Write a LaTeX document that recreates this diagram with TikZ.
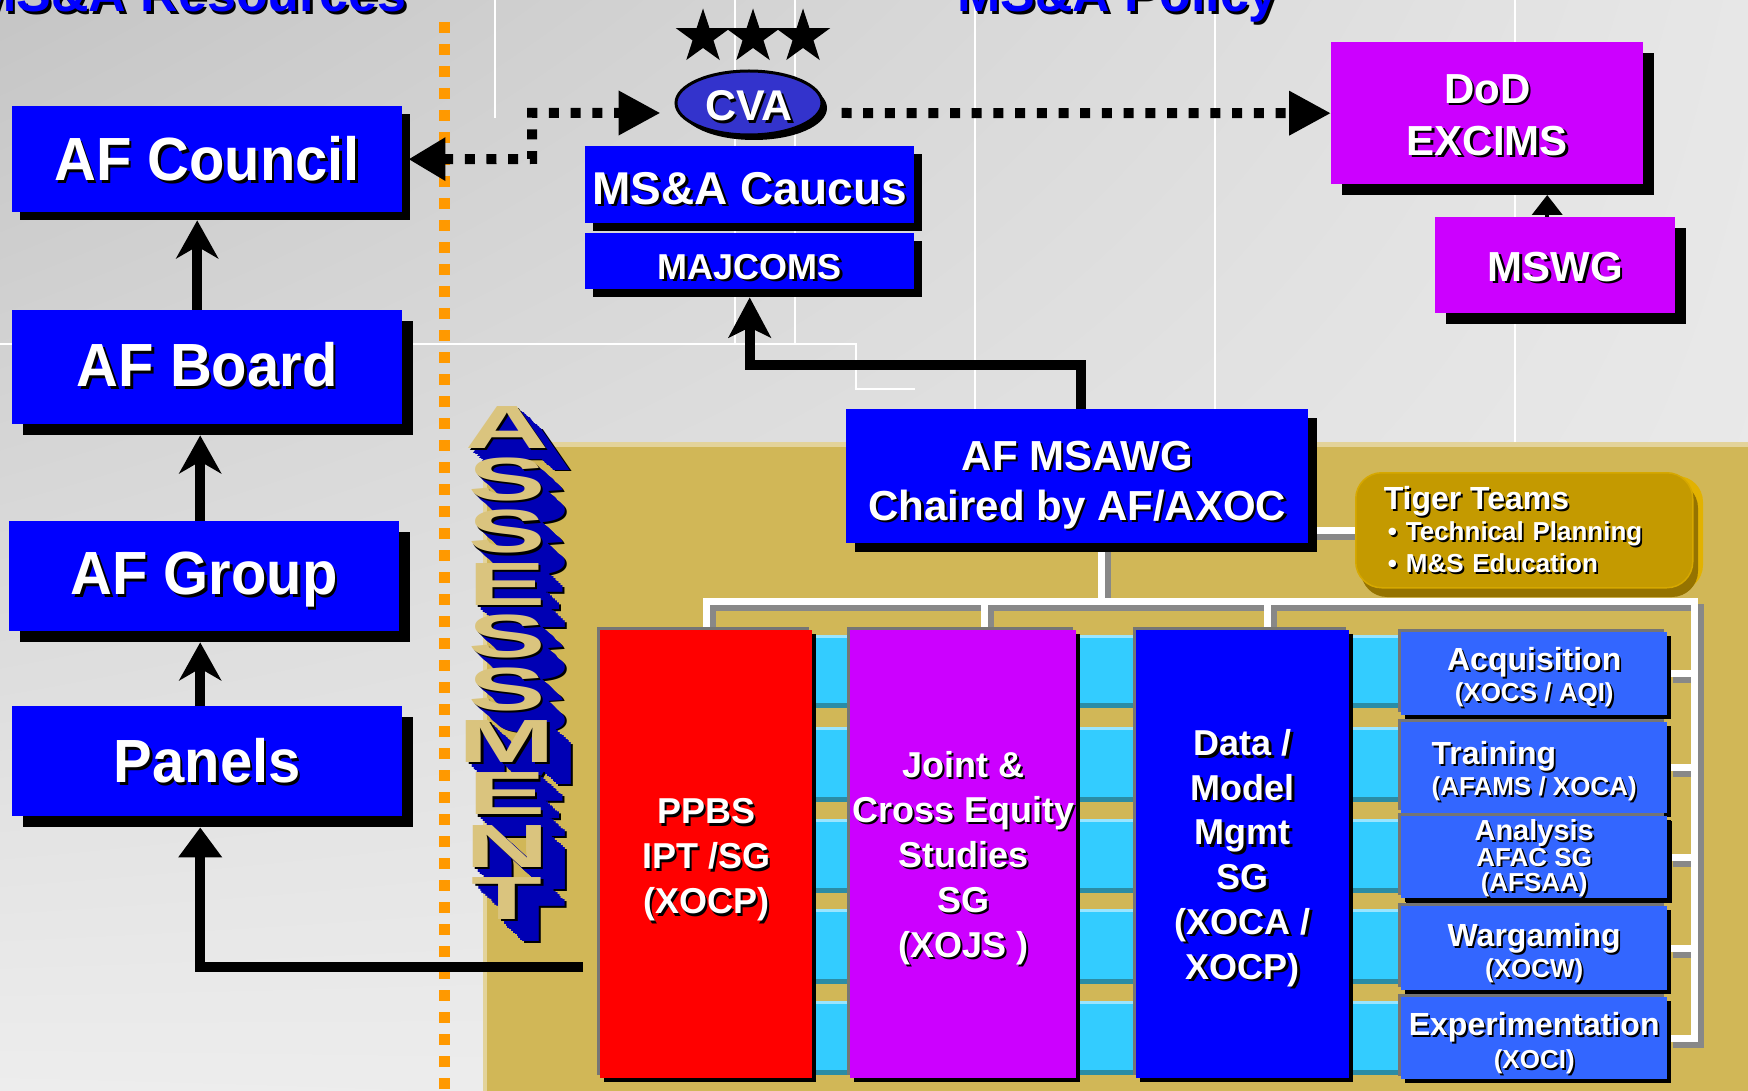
\documentclass[tikz,border=0pt]{standalone}
\usepackage{fontspec}
\setmainfont{Liberation Sans}
\newfontfamily\narrowf[FakeStretch=0.95]{Liberation Sans}
\usepackage{graphicx}
\usetikzlibrary{arrows.meta,shadows,shapes.geometric,shadings}
\lineskiplimit=-100pt
\lineskip=0pt
\definecolor{pblue}{HTML}{0000FF}
\definecolor{pmag}{HTML}{CC00FF}
\definecolor{pred}{HTML}{FF0000}
\definecolor{rblue}{HTML}{3366FF}
\definecolor{cvab}{HTML}{3333CC}
\definecolor{tanbg}{HTML}{D1B757}
\definecolor{tanhi}{HTML}{E3D39A}
\definecolor{gold}{HTML}{C49A00}
\definecolor{goldhi}{HTML}{E2B200}
\definecolor{goldlo}{HTML}{957300}
\definecolor{cyanb}{HTML}{33CCFF}
\definecolor{cyanhi}{HTML}{99E5FF}
\definecolor{cyanlo}{HTML}{2B8CA5}
\definecolor{orng}{HTML}{FF9900}
\definecolor{bevel}{HTML}{757575}
\definecolor{lgold}{HTML}{DAC47E}
\definecolor{xblue}{HTML}{0000B4}
\definecolor{treegray}{HTML}{888888}
\definecolor{bgtl}{HTML}{C5C5C5}
\definecolor{bgtr}{HTML}{E7E7E7}
\definecolor{bgbl}{HTML}{EDEDED}
\definecolor{bgbr}{HTML}{EBEBEB}
\pgfdeclarelayer{back}
\pgfdeclarelayer{bg}
\pgfsetlayers{back,bg,main}
\newcommand{\dn}{0pt}
\newcommand{\shd}[1]{\raisebox{-\dn}[\height][\depth]{\makebox[0pt][l]{\kern2.5pt\raisebox{-2.5pt}{\textcolor{black}{#1}}}#1}}
\newcommand{\shs}[1]{\raisebox{-\dn}[\height][\depth]{\makebox[0pt][l]{\kern1.8pt\raisebox{-1.8pt}{\textcolor{black}{#1}}}#1}}
\newcommand{\ltrfont}{\bfseries\fontsize{61}{61}\selectfont}
\begin{document}
\begin{tikzpicture}[x=1pt,y=-1pt,
  box/.style={rectangle, inner sep=0pt, anchor=north west, text=white, align=center},
  sh/.style={drop shadow={shadow xshift=#1, shadow yshift=-#1, fill=black, opacity=1}},
  bev/.style={general shadow={shadow xshift=-3pt, shadow yshift=3pt, fill=bevel}, general shadow={shadow xshift=3.5pt, shadow yshift=-3.5pt, fill=black}},
  big/.style={font=\narrowf\bfseries\fontsize{61}{64}\selectfont\def\dn{#1}},
  mid/.style={font=\bfseries\fontsize{42}{52}\selectfont\def\dn{#1}},
  col/.style={font=\bfseries\fontsize{36}{45}\selectfont\def\dn{#1}},
  rb/.style={box, bev, fill=rblue, minimum width=266pt},
  rbf/.style={font=\bfseries\fontsize{32}{31}\selectfont\def\dn{#1}},
  bigarr/.style={line width=10pt, -{Stealth[length=38pt,width=42pt,inset=12pt]}},
  triarr/.style={line width=10pt, -{Triangle[length=30pt,width=42pt]}},
  dotl/.style={line width=10pt, dash pattern=on 10pt off 11.7pt},
  tree/.style={line width=7pt},
  lt/.style={font=\ltrfont, anchor=base, inner sep=0pt},
]
\useasboundingbox (0,0) rectangle (1748,1091);

% ---------- background ----------
\begin{pgfonlayer}{back}
\shade[upper left=bgtl, upper right=bgtr, lower left=bgbl, lower right=bgbr] (0,0) rectangle (1748,1091);
\draw[white, line width=1.2pt] (495,0)--(495,118) (735,0)--(735,344) (795,0)--(795,344)
  (0,344)--(856,344)--(856,389)--(915,389) (975,0)--(975,409) (1215,0)--(1215,443) (1515,0)--(1515,443);
\fill[tanbg] (483,443) rectangle (1748,1091);
\fill[tanhi] (483,442) rectangle (1748,447);
\fill[tanhi] (483,443) rectangle (487,1091);
\draw[orng, line width=11pt, dash pattern=on 11pt off 11pt] (444,22) -- (444,1091);
\end{pgfonlayer}

\begin{pgfonlayer}{bg}
\foreach \xa/\xb in {812/850, 1076/1136, 1349/1401}
  \foreach \ya/\yb in {635/708, 727/802, 819/893, 909/984, 1001/1075} {
    \fill[cyanb] (\xa,\ya) rectangle (\xb,\yb);
    \fill[cyanhi] (\xa,\ya) rectangle (\xb,\ya+3);
    \fill[cyanlo] (\xa,\yb-5) rectangle (\xb,\yb);
  }
\end{pgfonlayer}

% ---------- titles ----------
\node[anchor=base east, inner sep=0pt, text=pblue, font=\bfseries\fontsize{52}{52}\selectfont] (tres) at (407,12) {\shd{MS\&A Resources}};
\node[anchor=base west, inner sep=0pt, text=pblue, font=\bfseries\fontsize{52}{52}\selectfont] (tpol) at (957,12) {\shd{MS\&A Policy}};

% ---------- left chain ----------
\node[box, sh=8pt, fill=pblue, minimum width=390pt, minimum height=106pt, big=1pt] (council) at (12,106) {\shd{AF Council}};
\node[box, sh=11pt, fill=pblue, minimum width=390pt, minimum height=114pt, big=-1pt] (board) at (12,310) {\shd{AF Board}};
\node[box, sh=11pt, fill=pblue, minimum width=390pt, minimum height=110pt, big=5pt] (group) at (9,521) {\shd{AF Group}};
\node[box, sh=11pt, fill=pblue, minimum width=390pt, minimum height=110pt, big=1pt] (panels) at (12,706) {\shd{Panels}};

% ---------- top centre ----------
\foreach \sx [count=\k] in {703,753,803}
  \node[star, star points=5, star point ratio=2.6, fill=black, minimum size=57pt, inner sep=0pt] (star\k) at (\sx,37) {};
\node[ellipse, fill=cvab, draw=black, line width=3pt, minimum width=146pt, minimum height=64pt, inner sep=0pt, text=white, sh=5pt, font=\bfseries\fontsize{43}{43}\selectfont\def\dn{4pt}] (cva) at (749,103) {\shd{CVA}};
\node[box, sh=8pt, fill=pblue, minimum width=329pt, minimum height=77pt, font=\bfseries\fontsize{46}{46}\selectfont\def\dn{5pt}] (caucus) at (585,146) {\shd{MS\&A Caucus}};
\node[box, sh=8pt, fill=pblue, minimum width=329pt, minimum height=56pt, font=\bfseries\fontsize{36}{36}\selectfont\def\dn{7pt}] (majcoms) at (585,233) {\shd{MAJCOMS}};

% ---------- top right ----------
\node[box, sh=11pt, fill=pmag, minimum width=312pt, minimum height=142pt, mid=3pt] (dod) at (1331,42) {\shd{DoD}\\\shd{EXCIMS}};
\node[box, sh=11pt, fill=pmag, minimum width=240pt, minimum height=96pt, mid=3pt] (mswg) at (1435,217) {\shd{MSWG}};

% ---------- MSAWG ----------
\node[box, sh=9pt, fill=pblue, minimum width=462pt, minimum height=134pt, font=\bfseries\fontsize{42}{50}\selectfont\def\dn{10pt}] (msawg) at (846,409) {\shd{AF MSAWG}\\\shd{Chaired by AF/AXOC}};

% ---------- Tiger teams ----------
\fill[goldhi, rounded corners=26pt] (1366,476) rectangle (1703,591);
\fill[goldlo, rounded corners=26pt] (1361,482) rectangle (1698,597);
\node[rectangle, rounded corners=26pt, fill=gold, draw=goldhi!60!gold, line width=1.5pt, minimum width=337pt, minimum height=115pt, anchor=north west, inner xsep=28pt, inner ysep=0pt, text width=281pt, align=left, text=white, font=\bfseries\fontsize{26}{31.5}\selectfont] (tiger) at (1355,472)
  {{\fontsize{32}{31.5}\selectfont\shs{Tiger Teams}}\\\shs{\hspace*{4pt}\textbullet\hspace{9pt}Technical Planning}\\\shs{\hspace*{4pt}\textbullet\hspace{9pt}M\&S Education}};

% ---------- columns ----------
\node[box, bev, fill=pred, minimum width=212pt, minimum height=448pt, col=7pt] (ppbs) at (600,630) {\shd{PPBS}\\\shd{IPT /SG}\\\shd{(XOCP)}};
\node[box, bev, fill=pmag, minimum width=226pt, minimum height=448pt, col=5pt] (joint) at (850,630) {\shd{Joint \&}\\\shd{Cross Equity}\\\shd{Studies}\\\shd{SG}\\\shd{(XOJS )}};
\node[box, bev, fill=pblue, minimum width=213pt, minimum height=448pt, font=\bfseries\fontsize{36}{44.7}\selectfont\def\dn{5pt}] (data) at (1136,630) {\shd{Data /}\\\shd{Model}\\\shd{Mgmt}\\\shd{SG}\\\shd{(XOCA /}\\\shd{XOCP)}};

% ---------- right boxes ----------
\node[rb, rbf=4pt, minimum height=83pt] (acq) at (1401,632) {\shs{Acquisition}\\{\fontsize{26}{31}\selectfont\shs{(XOCS / AQI)}}};
\node[rb, rbf=4pt, minimum height=91pt, align=left] (train) at (1401,722) {\shs{Training}\\{\fontsize{26}{31}\selectfont\shs{(AFAMS / XOCA)}}};
\node[rb, minimum height=82pt, font=\bfseries\fontsize{29}{25.5}\selectfont\def\dn{2pt}, general shadow={shadow xshift=5pt, shadow yshift=-5pt, fill=black}] (anal) at (1401,816) {\shs{Analysis}\\{\fontsize{26}{25.5}\selectfont\shs{AFAC SG}}\\{\fontsize{26}{25.5}\selectfont\shs{(AFSAA)}}};
\node[rb, rbf=6pt, minimum height=84pt] (warg) at (1401,906) {\shs{Wargaming}\\{\fontsize{26}{31}\selectfont\shs{(XOCW)}}};
\node[rb, minimum height=82pt, font=\bfseries\fontsize{32}{33}\selectfont\def\dn{6pt}] (exper) at (1401,997) {\shs{Experimentation}\\{\fontsize{26}{33}\selectfont\shs{(XOCI)}}};

% ---------- ASSESSMENT ----------
\foreach \L [count=\i from 0] in {A,S,S,E,S,S,M,E,N,T} {
  \pgfmathsetmacro\yb{448+52.4*\i}
  \node[lt, text=black] (ea\i) at (507+25.9,\yb+23.8) {\scalebox{1.9}[1]{\L}};
  \foreach \t in {13,12,...,3}
    \node[lt, text=xblue] (e\i-\t) at (507+1.85*\t,\yb+1.7*\t) {\scalebox{1.9}[1]{\L}};
  \node[lt, text=black] (eb\i) at (509.5,\yb+2.3) {\scalebox{1.9}[1]{\L}};
  \node[lt, text=lgold] (L\i) at (507,\yb) {\scalebox{1.9}[1]{\L}};
}

% ---------- connectors ----------
\draw[bigarr] ([xshift=-10pt]board.north) -- ([xshift=-10pt,yshift=-8pt]council.south);
\draw[bigarr] ([xshift=-4pt]group.north) -- ([xshift=-7pt,yshift=-11pt]board.south);
\draw[bigarr] ([xshift=-7pt]panels.north) -- ([xshift=-4pt,yshift=-11pt]group.south);
\coordinate (fb) at (583,967);
\draw[triarr] (fb) -| ([xshift=-7pt,yshift=-11pt]panels.south);

\draw[dotl, {Triangle[length=37pt,width=41pt]}-{Triangle[length=42pt,width=42pt]}, shorten >=14pt]
  ([xshift=6pt]council.east) -- (532,159) -- (532,113) -- ([yshift=-10pt]cva.west);
\draw[dotl, -{Triangle[length=42pt,width=42pt]}] ([xshift=18pt,yshift=-10pt]cva.east) -- (dod.west);

\draw[line width=10pt, -{Stealth[length=40pt,width=42pt,inset=10pt]}] ([xshift=4pt]msawg.north) -- ++(0,-44) -| ([yshift=-8pt]majcoms.south);
\draw[line width=4pt, -{Triangle[length=20pt,width=30pt]}] ([xshift=-8pt]mswg.north) -- ++(0,-22);

% ---------- white tree ----------
\begin{pgfonlayer}{bg}
\coordinate (hr) at (1694,601);
\coordinate (mt) at ([xshift=24pt]msawg.south);
\coordinate (jn) at ([xshift=21pt]joint.north);
\coordinate (dn) at ([xshift=25pt]data.north);
\foreach \cc/\sx in {treegray/6pt, white/0pt} {
  \begin{scope}[transform canvas={shift={(\sx,-\sx)}}]
    \draw[\cc, tree] (ppbs.north) |- (hr) |- (exper.east);
    \draw[\cc, tree] (mt) -- (mt |- hr);
    \draw[\cc, tree] (jn) -- (jn |- hr);
    \draw[\cc, tree] (dn) -- (dn |- hr);
    \foreach \b in {acq,train,anal,warg} \draw[\cc, tree] (\b.east) -- (\b.east -| hr);
    \draw[\cc, tree] (tiger.west -| msawg.east) -- (tiger.west);
  \end{scope}
}
\end{pgfonlayer}
\end{tikzpicture}
\end{document}
